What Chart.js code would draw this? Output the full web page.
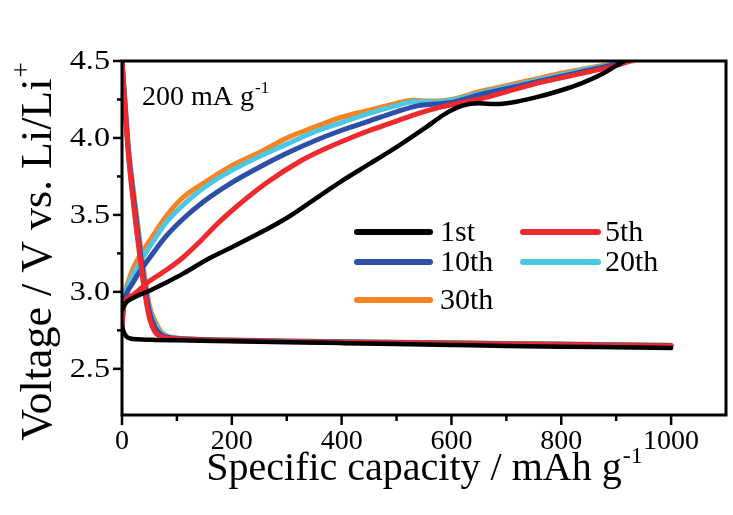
<!DOCTYPE html>
<html><head><meta charset="utf-8">
<script src="https://cdn.jsdelivr.net/npm/chart.js@4"></script>
<style>html,body{margin:0;padding:0;background:#fff}</style>
</head><body>
<canvas id="c" width="733" height="515"></canvas>
<script>
// ---- data (capacity mAh/g, voltage V) ----
const cycleLabels = ['1st', '5th', '10th', '20th', '30th'];
const xTickValues = [0, 200, 400, 600, 800, 1000];
const yTickValues = [2.5, 3.0, 3.5, 4.0, 4.5];

const discharge1st  = [[0,2.78],[3,2.74],[8,2.71],[15,2.697],[30,2.692],[60,2.688],[100,2.685],[200,2.679],[300,2.673],[400,2.667],[500,2.661],[600,2.655],[700,2.649],[800,2.644],[900,2.64],[1000,2.636]];
const discharge5th  = [[0,4.5],[5,4.22],[12,3.88],[20,3.6],[30,3.3],[40,3.03],[50,2.83],[60,2.74],[70,2.71],[80,2.70],[100,2.694],[150,2.687],[200,2.683],[300,2.677],[400,2.673],[500,2.669],[600,2.665],[700,2.661],[800,2.657],[900,2.653],[1000,2.649]];
const discharge10th = [[0,4.5],[5,4.24],[12,3.9],[20,3.64],[30,3.35],[40,3.08],[50,2.87],[60,2.77],[70,2.725],[80,2.707],[100,2.697],[150,2.689],[200,2.685],[300,2.679],[400,2.675],[500,2.671],[600,2.667],[700,2.663],[800,2.659],[900,2.655],[1000,2.651]];
const discharge20th = [[0,4.5],[5,4.25],[12,3.92],[20,3.66],[30,3.37],[40,3.11],[50,2.89],[60,2.79],[70,2.735],[80,2.712],[100,2.699],[150,2.69],[200,2.686],[300,2.68],[400,2.676],[500,2.672],[600,2.668],[700,2.664],[800,2.66],[900,2.656],[1000,2.652]];
const discharge30th = [[0,4.5],[5,4.26],[12,3.93],[20,3.68],[30,3.4],[40,3.13],[50,2.91],[60,2.81],[70,2.745],[80,2.717],[100,2.701],[150,2.691],[200,2.687],[300,2.681],[400,2.677],[500,2.673],[600,2.669],[700,2.665],[800,2.661],[900,2.657],[1000,2.653]];

const charge1st  = [[0,2.88],[5,2.92],[20,2.96],[52,3.01],[80,3.06],[112,3.12],[160,3.22],[200,3.29],[260,3.40],[300,3.48],[350,3.6],[400,3.72],[450,3.83],[500,3.94],[550,4.06],[590,4.16],[620,4.21],[650,4.225],[680,4.22],[710,4.23],[750,4.26],[800,4.31],[840,4.36],[877,4.42],[900,4.47],[915,4.5]];
const charge5th  = [[0,2.78],[3,2.9],[20,2.98],[50,3.07],[80,3.14],[110,3.22],[143,3.33],[170,3.43],[204,3.54],[264,3.71],[325,3.85],[370,3.93],[416,4.0],[460,4.06],[500,4.11],[540,4.16],[580,4.2],[620,4.23],[660,4.26],[700,4.3],[750,4.35],[800,4.39],[850,4.43],[900,4.47],[925,4.5]];
const charge10th = [[0,2.78],[3,2.92],[10,3.0],[20,3.06],[30,3.12],[50,3.22],[80,3.36],[110,3.47],[150,3.59],[200,3.71],[250,3.81],[300,3.9],[350,3.98],[400,4.05],[450,4.11],[500,4.17],[540,4.21],[570,4.22],[600,4.23],[650,4.28],[700,4.32],[750,4.36],[800,4.4],[850,4.44],[900,4.48],[922,4.5]];
const charge20th = [[0,2.78],[3,2.93],[10,3.03],[20,3.11],[30,3.18],[50,3.29],[80,3.45],[110,3.56],[150,3.68],[200,3.79],[250,3.88],[300,3.96],[350,4.04],[400,4.10],[450,4.16],[500,4.21],[530,4.235],[560,4.235],[600,4.245],[650,4.29],[700,4.33],[750,4.37],[800,4.41],[850,4.45],[900,4.48],[925,4.5]];
const charge30th = [[0,2.78],[3,2.94],[10,3.05],[20,3.15],[30,3.22],[50,3.33],[80,3.49],[110,3.61],[150,3.71],[200,3.82],[250,3.905],[300,4.0],[350,4.07],[400,4.135],[450,4.18],[500,4.225],[530,4.245],[560,4.24],[600,4.25],[650,4.3],[700,4.34],[750,4.38],[800,4.42],[850,4.455],[900,4.485],[930,4.5]];

// ---- styles ----
const lineColors = ['#000000', '#ee2a2e', '#2f4ea6', '#4cc6e3', '#f5831f'];
const lineWidths = [4.5, 5, 5, 5, 5];
const FONT = '"Liberation Serif", "Times New Roman", serif';

const dischargeSets = [discharge1st, discharge5th, discharge10th, discharge20th, discharge30th];
const chargeSets = [charge1st, charge5th, charge10th, charge20th, charge30th];
const toXY = arr => arr.map(p => ({x: p[0], y: p[1]}));

const datasets = [];
cycleLabels.forEach((lab, i) => {
  [dischargeSets[i], chargeSets[i]].forEach((set) => {
    datasets.push({
      label: lab,
      data: toXY(set),
      borderColor: lineColors[i], backgroundColor: lineColors[i],
      borderWidth: lineWidths[i], pointRadius: 0, fill: false,
      cubicInterpolationMode: 'monotone', borderCapStyle: 'round', borderJoinStyle: 'round'
    });
  });
});

function drawSup(ctx, main, sup, x, y, size, supSize, rise, align) {
  ctx.font = size + 'px ' + FONT;
  const w1 = ctx.measureText(main).width;
  ctx.font = supSize + 'px ' + FONT;
  const w2 = ctx.measureText(sup).width;
  let sx = x;
  if (align === 'center') sx = x - (w1 + w2) / 2;
  ctx.textAlign = 'left';
  ctx.font = size + 'px ' + FONT;
  ctx.fillText(main, sx, y);
  ctx.font = supSize + 'px ' + FONT;
  ctx.fillText(sup, sx + w1 + 1, y - rise);
}
function textScaled(ctx, s, x, y, sx, align) {
  ctx.save();
  ctx.translate(x, y);
  ctx.scale(sx, 1);
  ctx.textAlign = align;
  ctx.fillText(s, 0, 0);
  ctx.restore();
}

const decor = {
  id: 'decor',
  afterDatasetsDraw(chart) {
    const {ctx, chartArea: a, scales: {x, y}} = chart;
    ctx.save();
    ctx.strokeStyle = '#000'; ctx.fillStyle = '#000';
    ctx.lineWidth = 3;
    ctx.strokeRect(a.left, a.top, a.right - a.left, a.bottom - a.top);
    ctx.lineWidth = 2.5;
    x.ticks.forEach(t => {
      if (t.value > 1000.5) return;
      const px = x.getPixelForValue(t.value);
      const major = Math.abs(t.value % 200) < 1e-6;
      ctx.beginPath(); ctx.moveTo(px, a.bottom); ctx.lineTo(px, a.bottom + (major ? 10 : 6)); ctx.stroke();
    });
    ctx.font = '28px ' + FONT;
    ctx.textBaseline = 'alphabetic';
    xTickValues.forEach(v => {
      textScaled(ctx, String(v), x.getPixelForValue(v), a.bottom + 34, 1.0, 'center');
    });
    y.ticks.forEach(t => {
      const q = t.value / 0.25;
      if (Math.abs(q - Math.round(q)) > 1e-6) return;
      const py = y.getPixelForValue(t.value);
      const major = Math.abs(t.value * 2 - Math.round(t.value * 2)) < 1e-6;
      ctx.beginPath(); ctx.moveTo(a.left, py); ctx.lineTo(a.left - (major ? 9 : 5), py); ctx.stroke();
    });
    ctx.textBaseline = 'middle';
    yTickValues.forEach(v => {
      textScaled(ctx, v.toFixed(1), a.left - 12, y.getPixelForValue(v) + 1, 1.15, 'right');
    });
    // legend
    const rowsY = [171, 201, 239];
    const cols = [{l0: 235, l1: 308, t: 318}, {l0: 401, l1: 476, t: 483}];
    ctx.lineCap = 'round';
    ctx.textBaseline = 'middle';
    ctx.font = '30px ' + FONT;
    cycleLabels.forEach((lab, i) => {
      const r = Math.floor(i / 2), c = cols[i % 2];
      const yy = a.top + rowsY[r];
      ctx.strokeStyle = lineColors[i]; ctx.lineWidth = 6;
      ctx.beginPath(); ctx.moveTo(a.left + c.l0, yy); ctx.lineTo(a.left + c.l1, yy); ctx.stroke();
      ctx.fillStyle = '#000'; ctx.textAlign = 'left';
      ctx.fillText(lab, a.left + c.t, yy + 1);
    });
    // annotation
    ctx.textBaseline = 'alphabetic';
    drawSup(ctx, '200 mA g', '-1', a.left + 20, a.top + 44, 28, 17, 12, 'left');
    // x title
    drawSup(ctx, 'Specific capacity / mAh g', '-1', (a.left + a.right) / 2, 480, 40, 24, 17, 'center');
    // y title
    ctx.save();
    ctx.translate(51, 252);
    ctx.rotate(-Math.PI / 2);
    drawSup(ctx, 'Voltage / V vs. Li/Li', '+', 0, 0, 44, 27, 21, 'center');
    ctx.restore();
    ctx.restore();
  }
};

new Chart(document.getElementById('c'), {
  type: 'line',
  data: {datasets},
  options: {
    responsive: false, animation: false, devicePixelRatio: 1,
    layout: {padding: {top: 61, right: 7, left: 0, bottom: 0}},
    plugins: {legend: {display: false}, tooltip: {enabled: false}},
    scales: {
      x: {
        type: 'linear', min: 0, max: 1100,
        grid: {display: false, drawTicks: false}, border: {display: false},
        ticks: {stepSize: 100, autoSkip: false, display: false},
        afterFit: s => { s.height = 100; s.paddingLeft = 0; s.paddingRight = 0; }
      },
      y: {
        type: 'linear', min: 2.2, max: 4.5,
        grid: {display: false, drawTicks: false}, border: {display: false},
        ticks: {stepSize: 0.25, autoSkip: false, display: false},
        afterFit: s => { s.width = 122; s.paddingTop = 0; s.paddingBottom = 0; }
      }
    }
  },
  plugins: [decor]
});
</script>
</body></html>
